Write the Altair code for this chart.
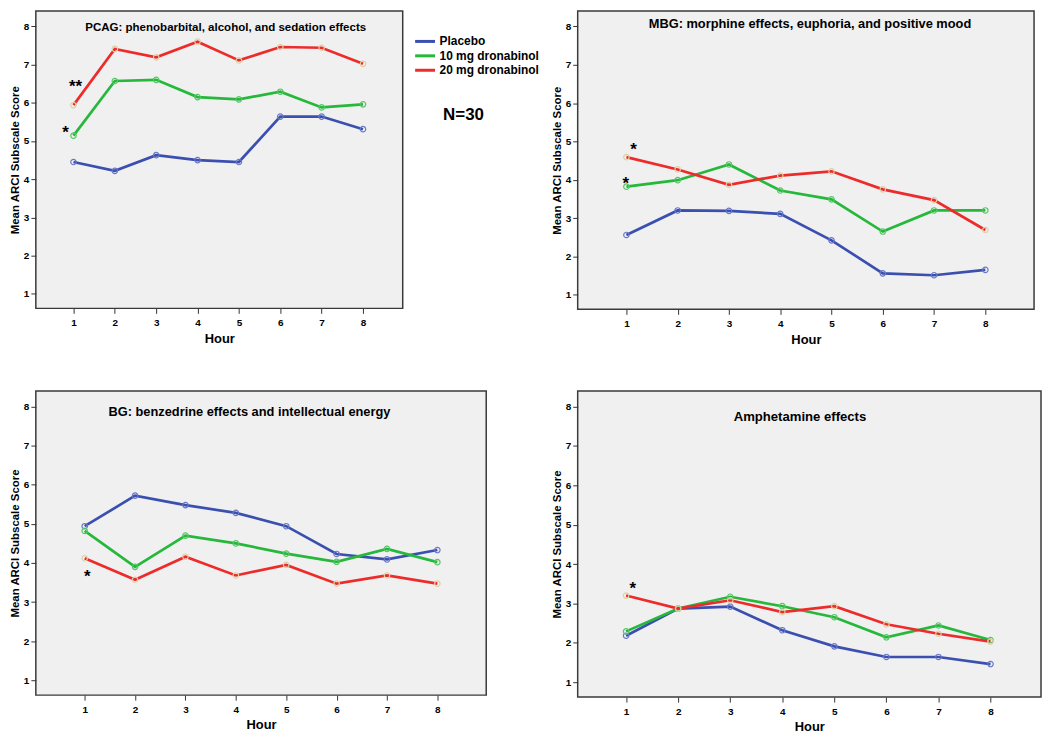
import altair as alt
import pandas as pd

FONT = "Liberation Sans"

hours = [1, 2, 3, 4, 5, 6, 7, 8]
groups = ["Placebo", "10 mg dronabinol", "20 mg dronabinol"]
line_colors = ["#3a4fb0", "#25b83a", "#ee2b2b"]
marker_colors = ["#6878c8", "#55c665", "#ddd0a4"]
y_ticks = [1, 2, 3, 4, 5, 6, 7, 8]

# PCAG
pcag_placebo = [4.45, 4.22, 4.63, 4.50, 4.45, 5.64, 5.64, 5.31]
pcag_10 = [5.14, 6.57, 6.60, 6.15, 6.09, 6.29, 5.88, 5.96]
pcag_20 = [5.94, 7.41, 7.19, 7.60, 7.11, 7.46, 7.44, 7.02]
# MBG
mbg_placebo = [2.56, 3.20, 3.19, 3.11, 2.42, 1.56, 1.51, 1.65]
mbg_10 = [3.82, 3.99, 4.40, 3.72, 3.49, 2.65, 3.20, 3.20]
mbg_20 = [4.59, 4.27, 3.87, 4.11, 4.22, 3.75, 3.47, 2.69]
# BG
bg_placebo = [4.94, 5.72, 5.48, 5.28, 4.94, 4.23, 4.09, 4.33]
bg_10 = [4.82, 3.90, 4.70, 4.50, 4.24, 4.03, 4.36, 4.02]
bg_20 = [4.12, 3.57, 4.16, 3.68, 3.95, 3.47, 3.68, 3.47]
# Amphetamine
amph_placebo = [2.18, 2.87, 2.92, 2.32, 1.91, 1.64, 1.64, 1.46]
amph_10 = [2.29, 2.87, 3.17, 2.93, 2.65, 2.14, 2.44, 2.07]
amph_20 = [3.20, 2.87, 3.08, 2.78, 2.93, 2.47, 2.23, 2.03]

# panel titles (text, hour position, score position)
titles = [
    "PCAG: phenobarbital, alcohol, and sedation effects",
    "MBG: morphine effects, euphoria, and positive mood",
    "BG: benzedrine effects and intellectual energy",
    "Amphetamine effects",
]
title_hour = [4.68, 4.58, 4.27, 4.34]
title_score = [7.96, 8.06, 7.86, 7.74]
title_size = [11.6, 12.9, 12.9, 13.2]

# significance markers per panel
star_text = [["**", "*"], ["*", "*"], ["*"], ["*"]]
star_hour = [[1.05, 0.81], [1.14, 0.99], [1.05], [1.13]]
star_score = [[6.48, 5.29], [4.86, 3.96], [3.72], [3.45]]

n_text = ["N=30"]
n_hour = [10.43]
n_score = [5.68]


def panel(series, idx, w, h, xdom, legend=False):
    df = pd.DataFrame({
        "Hour": hours * 3,
        "Score": series[0] + series[1] + series[2],
        "Group": [g for g in groups for _ in hours],
    })
    x = alt.X("Hour:Q", scale=alt.Scale(domain=xdom, nice=False, zero=False),
              axis=alt.Axis(values=hours, format="d", title="Hour"))
    y = alt.Y("Score:Q", scale=alt.Scale(domain=[0.62, 8.4], nice=False, zero=False),
              axis=alt.Axis(values=y_ticks, format="d", title="Mean ARCI Subscale Score"))
    if legend:
        leg = alt.Legend(orient="none", legendX=w + 16, legendY=24, title=None,
                         symbolType="M-2,0L2,0", symbolSize=100, symbolStrokeWidth=3,
                         labelFont=FONT, labelFontSize=12, labelFontWeight="bold",
                         labelColor="black", padding=0, rowPadding=1.5, labelOffset=8)
    else:
        leg = None
    color = alt.Color("Group:N", scale=alt.Scale(domain=groups, range=line_colors), legend=leg)
    lines = alt.Chart(df).mark_line(strokeWidth=2.7).encode(x=x, y=y, color=color)
    points = alt.Chart(df).mark_point(filled=False, size=30, strokeWidth=1.2, opacity=1).encode(
        x="Hour:Q", y="Score:Q",
        stroke=alt.Stroke("Group:N", scale=alt.Scale(domain=groups, range=marker_colors), legend=None))
    tdf = pd.DataFrame({"Hour": [title_hour[idx]], "Score": [title_score[idx]], "t": [titles[idx]]})
    title = alt.Chart(tdf).mark_text(font=FONT, fontWeight="bold", fontSize=title_size[idx],
                                     color="black").encode(x="Hour:Q", y="Score:Q", text="t:N")
    sdf = pd.DataFrame({"Hour": star_hour[idx], "Score": star_score[idx], "t": star_text[idx]})
    stars = alt.Chart(sdf).mark_text(font=FONT, fontWeight="bold", fontSize=17, dy=3,
                                     color="black").encode(x="Hour:Q", y="Score:Q", text="t:N")
    layers = [lines, points, title, stars]
    if legend:
        ndf = pd.DataFrame({"Hour": n_hour, "Score": n_score, "t": n_text})
        ntext = alt.Chart(ndf).mark_text(font=FONT, fontWeight="bold", fontSize=17,
                                         color="black").encode(x="Hour:Q", y="Score:Q", text="t:N")
        layers.append(ntext)
    return alt.layer(*layers).properties(width=w, height=h)


p1 = panel([pcag_placebo, pcag_10, pcag_20], 0, 369, 299, [0.09, 8.96], legend=True)
p2 = panel([mbg_placebo, mbg_10, mbg_20], 1, 459, 300, [0.05, 8.95])
p3 = panel([bg_placebo, bg_10, bg_20], 2, 453, 306, [0.03, 8.97])
p4 = panel([amph_placebo, amph_10, amph_20], 3, 466, 308, [0.07, 8.97])

chart = alt.concat(p1, p2, p3, p4, columns=2, spacing={"row": 82, "column": 92},
                   bounds="flush", align="each").resolve_scale(
    color="independent", stroke="independent").resolve_legend(color="independent").properties(
    padding=0, background="white"
).configure_view(
    fill="#f0f0f0", stroke="#3a3a3a", strokeWidth=1.5
).configure_axis(
    grid=False, domain=False, tickColor="#333333", tickSize=5,
    labelFont=FONT, labelFontWeight="bold", labelFontSize=10, labelColor="black",
    titleFont=FONT, titleFontWeight="bold", titleColor="black"
).configure_axisY(
    labelPadding=2, titlePadding=3, titleFontSize=11.5
).configure_axisX(
    labelPadding=4, titlePadding=5, titleFontSize=13
)

chart.save("out.html", embed_options={"renderer": "svg", "actions": False})
